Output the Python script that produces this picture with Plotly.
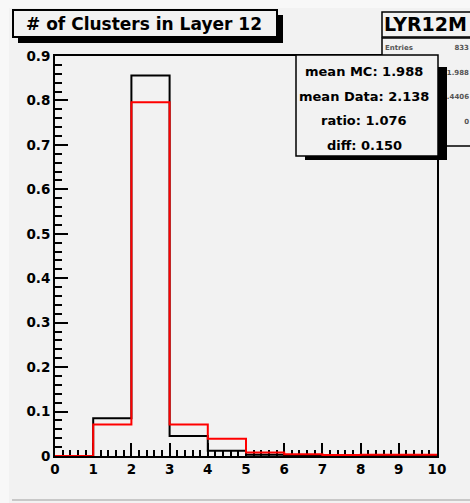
import plotly.graph_objects as go

# ---- data ----
bin_edges = [0, 1, 2, 3, 4, 5, 6, 7, 8, 9, 10]
mc_values = [0.0, 0.085, 0.856, 0.045, 0.012, 0.003, 0.001, 0.001, 0.001, 0.001]
data_values = [0.0, 0.071, 0.796, 0.071, 0.039, 0.008, 0.004, 0.002, 0.003, 0.003]
x_tick_vals = [0, 1, 2, 3, 4, 5, 6, 7, 8, 9, 10]
y_tick_vals = [0, 0.1, 0.2, 0.3, 0.4, 0.5, 0.6, 0.7, 0.8, 0.9]
title_text = "# of Clusters in Layer 12"
hist_name = "LYR12M"
stat_box_lines = ["mean MC: 1.988", "mean Data: 2.138", "ratio: 1.076", "diff: 0.150"]
hist_stat_label = "Entries"
hist_stat_values = ["833", "1.988", "0.4406", "0"]

W, H = 470, 503
L, R, T, B = 55, 437, 56, 456
XMIN, XMAX, YMIN, YMAX = 0, 10, 0, 0.9
BG = "#f2f2f2"
FONT = "DejaVu Sans"

fig = go.Figure()

# histograms (main axes)
fig.add_trace(go.Scatter(
    x=bin_edges, y=mc_values + [mc_values[-1]], mode="lines", line_shape="hv",
    line=dict(color="black", width=2), cliponaxis=False, showlegend=False))
fig.add_trace(go.Scatter(
    x=bin_edges, y=data_values + [data_values[-1]], mode="lines", line_shape="hv",
    line=dict(color="red", width=2), cliponaxis=False, showlegend=False))

# LYR12M stats values on a full-page pixel overlay (partly hidden behind the comparison box)
row_y = [48, 73, 97, 122]
fig.add_trace(go.Scatter(
    x=[385], y=[row_y[0]], mode="text", text=[hist_stat_label],
    textposition="middle right", xaxis="x2", yaxis="y2", showlegend=False, hoverinfo="skip",
    textfont=dict(family=FONT, size=7, color="#555", weight="bold")))
fig.add_trace(go.Scatter(
    x=[469] * len(hist_stat_values), y=row_y, mode="text", text=hist_stat_values,
    textposition="middle left", xaxis="x2", yaxis="y2", showlegend=False, hoverinfo="skip",
    textfont=dict(family=FONT, size=7, color="#555", weight="bold")))

P = dict(xref="x2", yref="y2")
shapes = []
# outer strips
shapes.append(dict(type="rect", **P, x0=-5, x1=9, y0=-5, y1=510, fillcolor="#f8f8f8", line_width=0, layer="below"))
shapes.append(dict(type="rect", **P, x0=-5, x1=480, y0=-5, y1=8, fillcolor="#f8f8f8", line_width=0, layer="below"))
shapes.append(dict(type="line", **P, x0=12, x1=480, y0=500, y1=500, line=dict(color="#c8c8c8", width=2), layer="below"))
# LYR12M title + stats box (behind)
shapes.append(dict(type="rect", **P, x0=382, x1=490, y0=12, y1=37, fillcolor=BG,
                   line=dict(color="black", width=1.5), layer="below"))
shapes.append(dict(type="rect", **P, x0=382, x1=490, y0=38, y1=146, fillcolor=BG,
                   line=dict(color="black", width=1.5), layer="below"))
# main title box with shadow
shapes.append(dict(type="rect", **P, x0=18, x1=283, y0=15, y1=43, fillcolor="black", line_width=0, layer="above"))
shapes.append(dict(type="rect", **P, x0=13, x1=277, y0=10, y1=37, fillcolor=BG,
                   line=dict(color="black", width=2), layer="above"))
# comparison stats box with shadow
shapes.append(dict(type="rect", **P, x0=305, x1=447, y0=67, y1=160, fillcolor="black", line_width=0, layer="above"))
shapes.append(dict(type="rect", **P, x0=296, x1=438, y0=55, y1=156, fillcolor=BG,
                   line=dict(color="black", width=1.5), layer="above"))

annotations = []
annotations.append(dict(**P, x=24, y=24, xanchor="left", yanchor="middle", text=title_text, showarrow=False,
                        font=dict(family=FONT, size=17, color="black", weight="bold")))
annotations.append(dict(**P, x=382, y=24, xanchor="left", yanchor="middle", text=hist_name, showarrow=False,
                        font=dict(family=FONT, size=19, color="black", weight="bold")))
for i, line in enumerate(stat_box_lines):
    annotations.append(dict(**P, x=364, y=71.5 + 24.6 * i, xanchor="center", yanchor="middle",
                            text=line, showarrow=False,
                            font=dict(family=FONT, size=13, color="black", weight="bold")))

tickfont = dict(family=FONT, size=13.5, color="black", weight="bold")
fig.update_layout(
    width=W, height=H,
    margin=dict(l=0, r=0, t=0, b=0, pad=0, autoexpand=False),
    paper_bgcolor=BG, plot_bgcolor="rgba(0,0,0,0)",
    shapes=shapes, annotations=annotations, showlegend=False,
    xaxis=dict(domain=[L / W, R / W], range=[XMIN, XMAX], tickvals=x_tick_vals, ticks="inside",
               ticklen=13, tickwidth=2, tickcolor="black", showline=True, linecolor="black", linewidth=2,
               mirror=True, showgrid=False, zeroline=False, tickfont=tickfont, layer="below traces",
               automargin=False,
               minor=dict(dtick=0.2, ticks="inside", ticklen=6, tickwidth=2, tickcolor="black", showgrid=False)),
    yaxis=dict(domain=[(H - B) / H, (H - T) / H], range=[YMIN, YMAX], tickvals=y_tick_vals, ticks="inside",
               ticklen=13, tickwidth=2, tickcolor="black", showline=True, linecolor="black", linewidth=2,
               mirror=True, showgrid=False, zeroline=False, tickfont=tickfont, layer="below traces",
               automargin=False,
               minor=dict(dtick=0.02, ticks="inside", ticklen=7, tickwidth=2, tickcolor="black", showgrid=False)),
    xaxis2=dict(domain=[0, 1], range=[0, W], visible=False, anchor="y2", fixedrange=True, automargin=False),
    yaxis2=dict(domain=[0, 1], range=[H, 0], visible=False, anchor="x2", fixedrange=True, automargin=False),
)

fig.write_html("out.html")
